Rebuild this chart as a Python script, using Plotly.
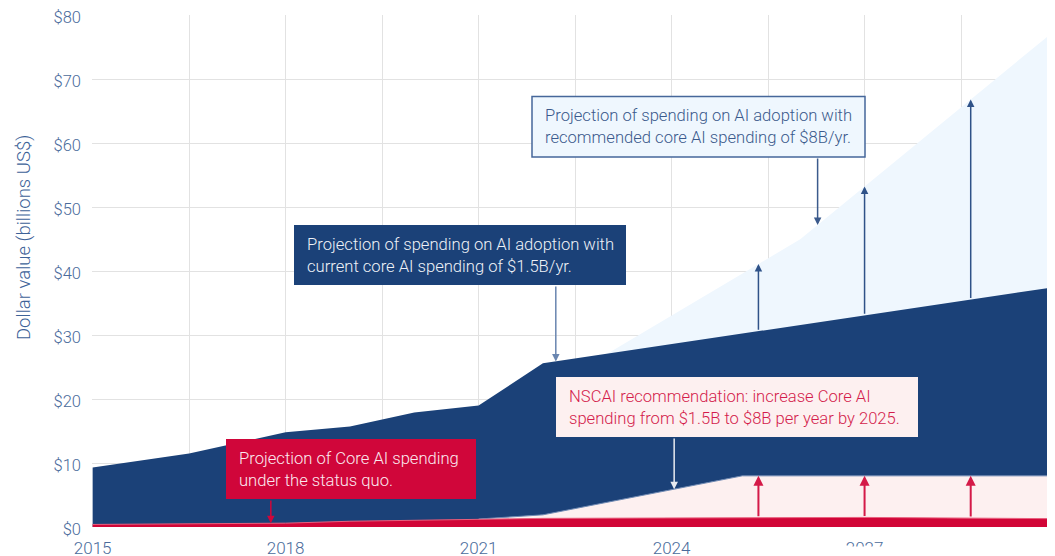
import numpy as np
import plotly.graph_objects as go

# ---------------- data ----------------
years_current = [2015, 2016.5, 2018, 2019, 2020, 2021, 2022, 2030]
adoption_current = [9.3, 11.5, 14.8, 15.7, 17.9, 19.0, 25.6, 37.6]

years_recommended = [2023, 2026, 2030]
adoption_recommended = [27.1, 45.0, 78.0]

years_core_status_quo = [2015, 2018, 2019, 2021, 2022, 2027, 2030]
core_status_quo = [0.4, 0.6, 0.9, 1.25, 1.35, 1.5, 1.3]

years_core_recommended = [2021, 2022, 2025.1, 2030]
core_recommended = [1.25, 1.9, 8.0, 8.0]

gap_arrow_years = [2025.35, 2027.0, 2028.65]

tick_years = [2015, 2016.5, 2018, 2019.5, 2021, 2022.5, 2024, 2025.5, 2027, 2028.5]
tick_text = ["2015", "", "2018", "", "2021", "", "2024", "", "2027", ""]
y_ticks = [0, 10, 20, 30, 40, 50, 60, 70, 80]
y_tick_text = ["$0", "$10", "$20", "$30", "$40", "$50", "$60", "$70", "$80"]

# ---------------- style ----------------
FONT = "Roboto"
DARK = "#1b4178"
LIGHT = "#eff7fe"
RED = "#d10537"
PINK = "#fdf0f0"
AXIS_TXT = "#4a6b9b"

OFF = 8  # page body margin
W, H = 1047, 556
ML, MR, MT, MB = 84, 0, 7, 37
PW = W - ML - MR
PH = H - MT - MB
PX_PER_YEAR = 64.37
X_MAX = 2015 + PW / PX_PER_YEAR
Y_MAX = 80.08


def px_x(px):
    # page pixel -> paper x
    return (px - OFF - ML) / PW


def px_y(py):
    # page pixel -> paper y
    return (H - MB - (py - OFF)) / PH


def px_to_val(py):
    return px_y(py) * Y_MAX


fig = go.Figure()

fig.add_trace(go.Scatter(x=years_recommended, y=adoption_recommended, mode="lines",
                         fill="tozeroy", fillcolor=LIGHT, line=dict(width=0, color=LIGHT),
                         hoverinfo="skip", showlegend=False))
fig.add_trace(go.Scatter(x=years_current, y=adoption_current, mode="lines",
                         fill="tozeroy", fillcolor=DARK, line=dict(width=0, color=DARK),
                         hoverinfo="skip", showlegend=False))
fig.add_trace(go.Scatter(x=years_core_recommended, y=core_recommended, mode="lines",
                         fill="tozeroy", fillcolor=PINK, line=dict(width=1, color="#6f8ab3"),
                         hoverinfo="skip", showlegend=False))
fig.add_trace(go.Scatter(x=years_core_status_quo, y=core_status_quo, mode="lines",
                         fill="tozeroy", fillcolor=RED, line=dict(width=1, color="#e8607e"),
                         hoverinfo="skip", showlegend=False))

annotations = []
shapes = []


def arrow(x, y_tail, y_head, color, width):
    annotations.append(dict(x=x, y=y_head, ax=x, ay=y_tail, xref="x", yref="y",
                            axref="x", ayref="y", showarrow=True, text="",
                            arrowhead=2, arrowsize=1, arrowwidth=width,
                            arrowcolor=color, standoff=0, startstandoff=0))


# gap arrows
for yr in gap_arrow_years:
    low = float(np.interp(yr, years_current, adoption_current))
    high = float(np.interp(yr, years_recommended, adoption_recommended))
    arrow(yr, low, high, "#2f5288", 1.5)
    low_r = float(np.interp(yr, years_core_status_quo, core_status_quo))
    high_r = float(np.interp(yr, years_core_recommended, core_recommended))
    arrow(yr, low_r, high_r, "#d41a48", 2)

# callout boxes: page-pixel box, fill, border, text colour, text, arrow year, target series
boxes = [
    dict(px=(294, 626, 225, 285), fill=DARK, border=None, color="#eef1f7",
         text="Projection of spending on AI adoption with<br>current core AI spending of $1.5B/yr.",
         ax=2022.2, series=(years_current, adoption_current), acol="#6a86b0"),
    dict(px=(532, 865, 96.5, 157), fill=LIGHT, border="#46679a", color="#3b5a8c",
         text="Projection of spending on AI adoption with<br>recommended core AI spending of $8B/yr.",
         ax=2026.27, series=(years_recommended, adoption_recommended), acol="#3b5a8c"),
    dict(px=(556, 918, 377, 437), fill=PINK, border=None, color="#d41c4c",
         text="NSCAI recommendation: increase Core AI<br>spending from $1.5B to $8B per year by 2025.",
         ax=2024.04, series=(years_core_recommended, core_recommended), acol="#e8eaf0"),
    dict(px=(226, 476, 439, 499), fill="#d0063a", border=None, color="#fbeaf0",
         text="Projection of Core AI spending<br>under the status quo.",
         ax=2017.77, series=(years_core_status_quo, core_status_quo), acol="#d0063a"),
]

for b in boxes:
    x0, x1, y0, y1 = b["px"]
    shapes.append(dict(type="rect", xref="paper", yref="paper", layer="above",
                       x0=px_x(x0), x1=px_x(x1), y0=px_y(y1), y1=px_y(y0),
                       fillcolor=b["fill"],
                       line=dict(width=1.5 if b["border"] else 0,
                                 color=b["border"] if b["border"] else b["fill"])))
    annotations.append(dict(x=px_x(x0 + 11), y=px_y((y0 + y1) / 2), xref="paper", yref="paper",
                            xanchor="left", yanchor="middle", align="left", showarrow=False,
                            text=b["text"], font=dict(family=FONT, size=16.6, color=b["color"], weight=300)))
    head = float(np.interp(b["ax"], b["series"][0], b["series"][1]))
    arrow(b["ax"], px_to_val(y1), head, b["acol"], 1.5)

# y axis title
annotations.append(dict(x=px_x(24), y=px_y(238), xref="paper", yref="paper", textangle=-90,
                        xanchor="center", yanchor="middle",
                        showarrow=False, text="Dollar value (billions US$)",
                        font=dict(family=FONT, size=18.5, color="#3d6298", weight=300)))

# white cover over lower part of the clipped "2027" label
shapes.append(dict(type="rect", xref="paper", yref="paper", layer="above",
                   x0=px_x(835), x1=px_x(900), y0=px_y(564), y1=px_y(546.5),
                   fillcolor="white", line=dict(width=0)))

fig.update_layout(
    width=W, height=H,
    margin=dict(l=ML, r=MR, t=MT, b=MB, autoexpand=False),
    paper_bgcolor="white", plot_bgcolor="white",
    annotations=annotations, shapes=shapes,
    xaxis=dict(range=[2014.99, X_MAX], tickvals=tick_years, ticktext=tick_text,
               automargin=False,
               showgrid=True, gridcolor="#e2e2e2", gridwidth=1, zeroline=False,
               showline=False, ticks="", ticklabelstandoff=9, ticklabeloverflow="allow",
               tickfont=dict(family=FONT, size=17, color=AXIS_TXT, weight=300)),
    yaxis=dict(range=[0, Y_MAX], tickvals=y_ticks, ticktext=y_tick_text,
               automargin=False,
               showgrid=True, gridcolor="#e2e2e2", gridwidth=1, zeroline=False,
               showline=False, ticks="", ticklabelstandoff=10, ticklabeloverflow="allow",
               ticklabelshift=2,
               tickfont=dict(family=FONT, size=16.5, color=AXIS_TXT, weight=300)),
)

fig.write_html("out.html")
